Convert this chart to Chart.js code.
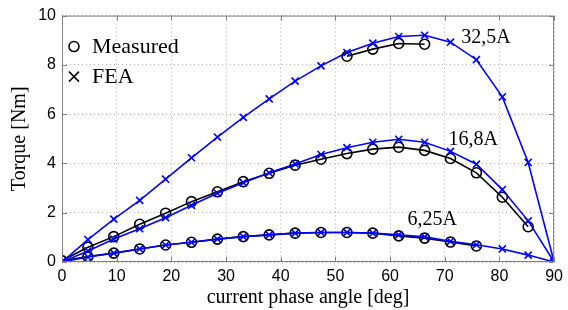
<!DOCTYPE html>
<html><head><meta charset="utf-8">
<script src="https://cdn.jsdelivr.net/npm/chart.js@4/dist/chart.umd.min.js"></script>
<style>html,body{margin:0;padding:0;background:#fff}#wrap{width:568px;height:310px}</style>
</head><body><div id="wrap"><canvas id="c" width="568" height="310"></canvas></div>
<script>
// phase angle samples (deg): 20 equal steps of 90/19
const angles = [0, 4.74, 9.47, 14.21, 18.95, 23.68, 28.42, 33.16, 37.89, 42.63, 47.37, 52.11, 56.84, 61.58, 66.32, 71.05, 75.79, 80.53, 85.26, 90];
const fea32 = [0, 0.91, 1.74, 2.5, 3.36, 4.23, 5.07, 5.87, 6.62, 7.34, 7.96, 8.5, 8.88, 9.15, 9.2, 8.92, 8.21, 6.7, 4.04, 0];
const meas32 = [null, null, null, null, null, null, null, null, null, null, null, 8.35, 8.64, 8.87, 8.84, null, null, null, null, null];
const fea16 = [0, 0.45, 0.93, 1.35, 1.8, 2.3, 2.79, 3.22, 3.62, 3.98, 4.36, 4.64, 4.86, 4.98, 4.86, 4.49, 3.97, 2.94, 1.67, 0];
const meas16 = [0.05, 0.6, 1.03, 1.53, 1.98, 2.45, 2.85, 3.26, 3.6, 3.93, 4.17, 4.4, 4.58, 4.66, 4.53, 4.2, 3.62, 2.63, 1.43, null];
const fea6 = [0, 0.2, 0.36, 0.53, 0.69, 0.8, 0.93, 1.03, 1.1, 1.17, 1.2, 1.2, 1.17, 1.1, 1.02, 0.84, 0.7, 0.53, 0.28, 0];
const meas6 = [0.05, 0.22, 0.36, 0.53, 0.69, 0.8, 0.93, 1.03, 1.1, 1.17, 1.2, 1.2, 1.17, 1.06, 0.97, 0.81, 0.65, null, null, null];
const curveLabels = [{t:'32,5A', x:73.0, y:9.1}, {t:'16,8A', x:70.7, y:4.98}, {t:'6,25A', x:63.2, y:1.7}];
const xTitle = 'current phase angle [deg]';
const yTitle = 'Torque [Nm]';
const legendItems = ['Measured', 'FEA'];

const BLUE = '#0000ff', BLACK = '#000000', AXIS = '#7f7f7f';
const SERIF = '"Liberation Serif", "Times New Roman", serif';
const SANS = '"Liberation Sans", Arial, sans-serif';

function pts(arr){ return angles.map((a,i)=>({x:a, y:arr[i]})).filter(p=>p.y!==null); }
function feaDs(arr){ return {data: pts(arr), borderColor: BLUE, borderWidth: 1.6, pointStyle: 'crossRot', pointRadius: 5, pointBorderColor: BLUE, pointBorderWidth: 1.6, pointBackgroundColor: 'transparent', order: 0, tension: 0}; }
function measDs(arr){ return {data: pts(arr), borderColor: BLACK, borderWidth: 1.6, pointStyle: 'circle', pointRadius: 5, pointBorderColor: BLACK, pointBorderWidth: 1.6, pointBackgroundColor: 'transparent', order: 1, tension: 0}; }

const deco = {
  id: 'deco',
  afterDraw(chart){
    const ctx = chart.ctx, a = chart.chartArea, xs = chart.scales.x, ys = chart.scales.y;
    ctx.save();
    // box
    ctx.strokeStyle = AXIS; ctx.lineWidth = 1;
    ctx.strokeRect(a.left+0.5, a.top+0.5, a.right-a.left-1, a.bottom-a.top-1);
    // inward ticks
    ctx.beginPath();
    xs.ticks.forEach(t=>{ const px = Math.round(xs.getPixelForValue(t.value))+0.5;
      ctx.moveTo(px, a.bottom); ctx.lineTo(px, a.bottom-5);
      ctx.moveTo(px, a.top); ctx.lineTo(px, a.top+5); });
    ys.ticks.forEach(t=>{ const py = Math.round(ys.getPixelForValue(t.value))+0.5;
      ctx.moveTo(a.left, py); ctx.lineTo(a.left+5, py);
      ctx.moveTo(a.right, py); ctx.lineTo(a.right-5, py); });
    ctx.stroke();
    // curve labels
    ctx.fillStyle = '#000'; ctx.font = '20px ' + SERIF; ctx.textBaseline = 'middle'; ctx.textAlign = 'left';
    curveLabels.forEach(l=> ctx.fillText(l.t, xs.getPixelForValue(l.x), ys.getPixelForValue(l.y)));
    // legend
    ctx.font = '22px ' + SERIF;
    const lx = a.left + 12, ly1 = a.top + 31, ly2 = a.top + 61;
    ctx.lineWidth = 1.5; ctx.strokeStyle = '#000';
    ctx.beginPath(); ctx.arc(lx, ly1, 5, 0, Math.PI*2); ctx.stroke();
    ctx.beginPath(); ctx.moveTo(lx-5, ly2-5); ctx.lineTo(lx+5, ly2+5); ctx.moveTo(lx+5, ly2-5); ctx.lineTo(lx-5, ly2+5); ctx.stroke();
    ctx.fillText(legendItems[0], lx+18, ly1+1);
    ctx.fillText(legendItems[1], lx+18, ly2+1);
    ctx.restore();
  }
};

new Chart(document.getElementById('c'), {
  type: 'line',
  data: { datasets: [feaDs(fea32), feaDs(fea16), feaDs(fea6), measDs(meas32), measDs(meas16), measDs(meas6)] },
  options: {
    responsive: false, animation: false, devicePixelRatio: 1,
    layout: { padding: { left: 0, right: 12, top: 15, bottom: 0 } },
    plugins: { legend: { display: false }, tooltip: { enabled: false } },
    scales: {
      x: { type: 'linear', min: 0, max: 90,
        afterFit: s => { s.height = 48; },
        ticks: { stepSize: 10, padding: 5, color: '#000', font: { family: SANS, size: 16 }, maxRotation: 0 },
        grid: { color: '#b0b0b0', drawTicks: false, lineWidth: 1 },
        border: { display: false, dash: [1, 3] },
        title: { display: true, text: xTitle, color: '#000', font: { family: SERIF, size: 20 }, padding: { top: 0, bottom: 0 } } },
      y: { type: 'linear', min: 0, max: 10,
        afterFit: s => { s.width = 62; },
        ticks: { stepSize: 2, padding: 6, color: '#000', font: { family: SANS, size: 16 } },
        grid: { color: '#b0b0b0', drawTicks: false, lineWidth: 1 },
        border: { display: false, dash: [1, 3] },
        title: { display: true, text: yTitle, color: '#000', font: { family: SERIF, size: 20 }, padding: { top: 8, bottom: 0 } } }
    }
  },
  plugins: [deco]
});
</script></body></html>
